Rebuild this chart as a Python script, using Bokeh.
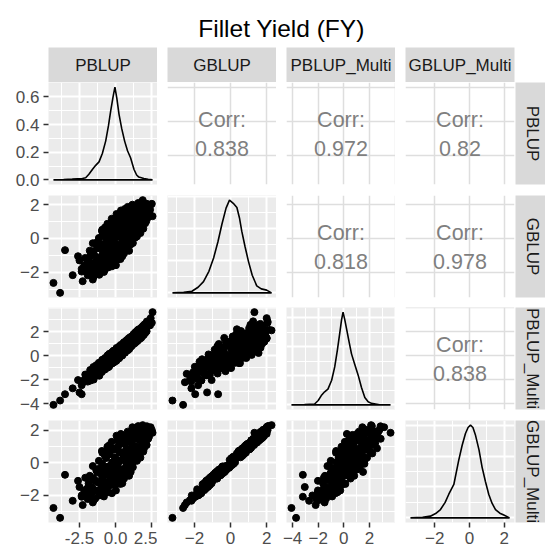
from bokeh.plotting import figure
from bokeh.layouts import gridplot, column
from bokeh.models import Range1d, FixedTicker, Grid, LinearAxis, BasicTickFormatter, PrintfTickFormatter
from bokeh.core.properties import value
from bokeh.embed import file_html
from bokeh.resources import INLINE

TITLE = "Fillet Yield (FY)"
VARS = ["PBLUP", "GBLUP", "PBLUP_Multi", "GBLUP_Multi"]

# ---- scatter data (one entry per animal) ----
PBLUP = [-4.30, -3.84, -3.50, -2.97, -2.50, -2.28, -1.58, -2.60, -2.35, -0.95, 1.87, 2.55, 2.50,
         -2.18, -2.04, -1.87, -1.79, -1.71, -1.62, -1.58, -1.48,
         -1.41, -1.33, -1.27, -1.21, -1.16, -1.08, -1.02, -0.97, -0.92, -0.88, -0.81, -0.76,
         -0.72, -0.66, -0.61, -0.57, -0.52, -0.47, -0.42, -0.38, -0.31, -0.27, -0.22, -0.17,
         -0.12, -0.08, -0.03, 0.02, 0.07, 0.12, 0.18, 0.22, 0.28, 0.33, 0.37, 0.42,
         0.48, 0.53, 0.58, 0.63, 0.67, 0.72, 0.78, 0.83, 0.88, 0.93, 0.97, 1.03,
         1.08, 1.13, 1.19, 1.27, 1.32, 1.38, 1.47, 1.53, 1.58, 1.63,
         1.71, 1.77, 1.83, 1.91, 1.97, 2.03, 2.12, 2.18, 2.31,
         -1.95, -1.93, -1.76, -1.74, -1.56, -1.54, -1.52, -1.36, -1.34, -1.16, -1.14, -1.13,
         -0.96, -0.94, -0.93, -0.86, -0.84, -0.76, -0.74, -0.66, -0.64, -0.63, -0.56, -0.54,
         -0.46, -0.45, -0.44, -0.36, -0.34, -0.26, -0.25, -0.24, -0.16, -0.15, -0.14, -0.06,
         -0.05, -0.04, 0.04, 0.05, 0.06, 0.14, 0.16, 0.24, 0.25, 0.26, 0.34, 0.35,
         0.36, 0.44, 0.46, 0.54, 0.55, 0.56, 0.64, 0.65, 0.66, 0.74, 0.76, 0.84,
         0.85, 0.86, 0.94, 0.96, 1.04, 1.05, 1.06, 1.14, 1.15, 1.16, 1.24, 1.26,
         1.34, 1.36, 1.44, 1.46, 1.54, 1.56, 1.64, 1.66, 1.74, 1.76, 1.84, 1.86,
         1.94, 1.96, 2.04, 2.06, 2.14, 2.16, 2.25, 2.38, 2.42, -2.35, -2.10]
GBLUP = [-2.63, -3.22, -0.69, -2.17, -1.30, -2.53, -2.43, -1.05, -1.96, 0.45, 2.27, 1.32, 2.05,
         -1.62, -1.88, -1.17, -0.72, -2.02, -1.47, -0.28, -0.98,
         -2.08, -1.63, -0.58, -1.12, 0.03, -1.77, -1.31, -0.33, 0.52, -0.81, -1.98, -1.46,
         -0.52, 0.18, -1.13, 0.87, -1.72, -0.23, 0.41, -0.77, -1.28, 1.17, 0.02, -0.48,
         0.68, -0.97, 0.31, -1.58, -0.32, 1.28, 0.91, -0.68, 0.12, -1.22, 1.66, 0.52,
         -0.41, 1.08, -0.88, 0.23, 1.47, 0.71, -0.18, 1.87, 0.38, -0.73, 1.21, 0.03,
         0.82, 1.68, -0.27, 0.42, 1.38, 0.97, 0.12, 1.92, 0.68, 1.31,
         0.32, 1.72, 1.02, 0.58, 1.43, 1.98, 1.03, 1.79, 1.52,
         -1.35, -2.18, -1.05, -1.62, -1.85, -0.75, -2.25, -1.35, -0.25, -0.55, -1.45, -2.15,
         -1.75, -1.05, 0.15, -0.45, -1.25, -1.85, 0.65, -0.85, -0.05, -1.45, 0.45, -1.25,
         -1.55, -0.55, 0.85, -0.10, -0.95, -1.65, 0.65, 0.25, -0.75, 1.05, -1.35, -0.35,
         0.05, -1.15, 0.65, -0.75, 1.45, -1.25, 0.15, 0.45, -0.45, 1.15, -0.85, 0.85,
         1.55, -0.05, -1.05, 0.55, 1.45, -0.65, 1.75, -0.35, 0.95, 0.05, 1.15, -0.45,
         0.75, 1.55, 0.15, 1.85, -0.35, 0.55, 1.55, 1.15, 0.15, 2.00, 0.75, 1.75,
         0.05, 1.15, 0.55, 1.65, 1.05, 2.10, 0.35, 1.65, 1.15, 2.00, 0.85, 1.45,
         1.80, 1.10, 0.90, 1.65, 1.30, 2.05, 1.25, 1.70, 2.00, -1.80, -1.15]
PBLUP_MULTI = [-4.09, -3.73, -3.20, -2.71, -3.05, -2.20, -1.50, -2.02, -3.20, -0.60, 2.13, 3.65, 2.77,
               -2.02, -1.88, -1.62, -1.47, -1.58, -1.42, -1.28, -1.21,
               -1.38, -1.12, -0.98, -0.92, -1.02, -1.18, -0.79, -0.72, -0.61, -0.88, -0.91, -0.58,
               -0.52, -0.41, -0.62, -0.18, -0.49, -0.31, -0.12, -0.41, -0.38, 0.08, 0.02, -0.21,
               0.18, -0.22, 0.11, -0.28, 0.12, 0.38, 0.42, 0.11, 0.31, 0.12, 0.68, 0.52,
               0.41, 0.72, 0.52, 0.68, 0.98, 0.88, 0.82, 1.18, 1.02, 0.81, 1.31, 1.12,
               1.28, 1.52, 1.22, 1.41, 1.52, 1.58, 1.62, 1.72, 1.76, 1.86,
               1.82, 2.01, 1.96, 2.07, 2.21, 2.12, 2.31, 2.44, 2.56,
               -1.56, -2.15, -1.18, -2.06, -1.65, -0.93, -1.98, -1.63, -0.78, -0.58, -1.50, -1.66,
               -1.35, -0.55, -0.33, -1.06, -0.47, -1.15, -0.18, -1.03, -0.16, -0.82, 0.04, -0.97,
               -0.56, -0.89, 0.17, -0.63, 0.05, -0.65, 0.31, -0.58, 0.32, 0.43, -0.55, -0.49,
               0.44, -0.18, 0.53, -0.41, 0.66, -0.25, 0.60, -0.20, 0.69, 0.80, -0.03, 0.91,
               0.24, 0.93, 0.03, 0.23, 1.11, 0.99, 1.18, 0.26, 0.78, 1.28, 0.45, 0.47,
               1.41, 1.03, 0.57, 1.52, 1.50, 0.76, 1.60, 0.87, 1.61, 1.45, 1.82, 1.02,
               1.07, 1.96, 1.18, 2.07, 1.28, 2.19, 2.22, 1.42, 2.32, 1.50, 1.64, 2.46,
               1.75, 2.59, 1.90, 2.67, 2.05, 2.87, 2.88, 2.55, 3.15, -2.45, -1.56]
GBLUP_MULTI = [-2.79, -3.40, -0.75, -2.35, -1.50, -2.61, -2.45, -1.12, -2.10, 0.72, 2.31, 1.84, 2.00,
               -1.71, -1.98, -1.28, -0.81, -2.12, -1.52, -0.21, -1.08,
               -2.21, -1.72, -0.61, -1.22, 0.11, -1.88, -1.32, -0.42, 0.61, -0.92, -2.08, -1.61,
               -0.51, 0.28, -1.21, 0.98, -1.82, -0.22, 0.51, -0.88, -1.38, 1.28, 0.01, -0.58,
               0.79, -1.08, 0.31, -1.71, -0.31, 1.38, 1.01, -0.79, 0.12, -1.31, 1.71, 0.61,
               -0.41, 1.18, -0.98, 0.22, 1.58, 0.81, -0.21, 1.91, 0.49, -0.81, 1.31, 0.02,
               0.91, 1.79, -0.28, 0.41, 1.49, 1.02, 0.11, 1.98, 0.79, 1.41,
               0.31, 1.81, 1.09, 0.68, 1.51, 2.08, 1.12, 1.88, 1.61,
               -1.58, -2.24, -0.86, -1.88, -1.79, -0.98, -2.31, -1.12, -0.47, -0.38, -1.69, -2.02,
               -1.98, -0.84, -0.07, -0.26, -1.48, -1.64, 0.42, -0.63, -0.28, -1.26, 0.68, -1.47,
               -1.33, -0.78, 1.07, -0.33, -0.74, -1.88, 0.86, 0.02, -0.53, 0.83, -1.14, -0.58,
               0.27, -1.38, 0.87, -0.97, 1.66, -1.04, -0.08, 0.67, -0.67, 1.36, -0.64, 0.62,
               1.77, 0.17, -1.27, 0.33, 1.67, -0.43, 1.52, -0.57, 1.17, -0.17, 1.37, -0.23,
               0.53, 1.77, 0.37, 1.63, -0.57, 0.77, 1.33, 1.37, -0.07, 2.18, 0.97, 1.53,
               0.27, 0.93, 0.77, 1.87, 0.83, 2.25, 0.57, 1.43, 1.37, 1.78, 1.07, 1.23,
               2.02, 0.88, 1.12, 1.87, 1.08, 2.24, 1.47, 1.92, 2.18, -2.02, -0.93]

# ---- diagonal density curves ----
DENS_PBLUP_X = [-4.30, -3.60, -3.00, -2.64, -2.30, -2.07, -1.85, -1.61, -1.38, -1.15, -0.92, -0.69,
                -0.50, -0.34, -0.18, -0.05, 0.08, 0.23, 0.42, 0.62, 0.82, 1.03, 1.27, 1.45, 1.60,
                1.95, 2.25, 2.55]
DENS_PBLUP_Y = [0.0, 0.002, 0.005, 0.008, 0.010, 0.015, 0.040, 0.075, 0.105, 0.130, 0.190, 0.280,
                0.390, 0.500, 0.600, 0.670, 0.590, 0.475, 0.370, 0.280, 0.210, 0.160, 0.075, 0.035,
                0.020, 0.010, 0.004, 0.0]
DENS_GBLUP_X = [-3.22, -2.60, -2.14, -1.80, -1.50, -1.20, -0.94, -0.70, -0.48, -0.25, -0.06, 0.15,
                0.35, 0.50, 0.62, 0.80, 0.99, 1.20, 1.45, 1.70, 2.00, 2.27]
DENS_GBLUP_Y = [0.0, 0.004, 0.010, 0.035, 0.070, 0.135, 0.218, 0.320, 0.429, 0.530, 0.580, 0.560,
                0.534, 0.465, 0.386, 0.290, 0.197, 0.110, 0.044, 0.025, 0.017, 0.0]
DENS_PM_X = [-4.09, -3.07, -2.28, -2.00, -1.76, -1.50, -1.24, -0.95, -0.71, -0.50, -0.32, -0.18,
             -0.06, 0.07, 0.20, 0.40, 0.60, 0.85, 1.12, 1.38, 1.64, 1.90, 2.16, 2.80, 3.65]
DENS_PM_Y = [0.0, 0.003, 0.006, 0.030, 0.064, 0.090, 0.109, 0.170, 0.262, 0.380, 0.493, 0.585,
             0.640, 0.590, 0.531, 0.440, 0.352, 0.280, 0.205, 0.120, 0.051, 0.022, 0.010, 0.001, 0.0]
DENS_GM_X = [-3.40, -2.70, -2.25, -1.95, -1.67, -1.40, -1.19, -0.90, -0.62, -0.42, -0.23, -0.08,
             0.06, 0.20, 0.35, 0.55, 0.73, 0.92, 1.11, 1.30, 1.50, 1.75, 1.98, 2.31]
DENS_GM_Y = [0.0, 0.004, 0.011, 0.028, 0.054, 0.100, 0.153, 0.216, 0.372, 0.470, 0.546, 0.585,
             0.600, 0.585, 0.534, 0.440, 0.327, 0.235, 0.153, 0.095, 0.054, 0.030, 0.018, 0.0]

# ---- correlations (upper panels) ----
CORR_ROW = [0, 0, 0, 1, 1, 2]
CORR_COL = [1, 2, 3, 2, 3, 3]
CORR_VAL = [0.838, 0.972, 0.82, 0.818, 0.978, 0.838]

# ---- ticks ----
MAJOR = [[-2.5, 0, 2.5], [-2, 0, 2], [-4, -2, 0, 2, 4], [-2, 0, 2]]
MINOR = [[-3.75, -1.25, 1.25], [-3, -1, 1], [-3, -1, 1, 3], [-3, -1, 1]]
LABELLED = [[-2.5, 0, 2.5], [-2, 0, 2], [-4, -2, 0, 2], [-2, 0, 2]]
LABEL_DECIMALS = [1, 0, 0, 0]
DENS_MAJOR = [0, 0.2, 0.4, 0.6]
DENS_MINOR = [0.1, 0.3, 0.5]

DATA = [PBLUP, GBLUP, PBLUP_MULTI, GBLUP_MULTI]
DENS = [(DENS_PBLUP_X, DENS_PBLUP_Y), (DENS_GBLUP_X, DENS_GBLUP_Y),
        (DENS_PM_X, DENS_PM_Y), (DENS_GM_X, DENS_GM_Y)]

# ---- layout geometry ----
FW, FH = 109, 102
COL_L = [48, 10, 10, 10]
COL_R = [0, 0, 0, 1]
ROW_T = [0, 5, 5, 6]
ROW_B = [6, 5, 5, 26]
STRIP_W, STRIP_H, TITLE_H = 30, 35, 47
FONT = value("Liberation Sans")


def expanded(vals):
    lo, hi = min(vals), max(vals)
    pad = 0.05 * (hi - lo)
    return lo - pad, hi + pad


def make_fig(fw, fh, l, r, t, b, xr=None, yr=None, bg="white"):
    p = figure(frame_width=fw, frame_height=fh,
               x_range=xr if xr is not None else Range1d(0, 1),
               y_range=yr if yr is not None else Range1d(0, 1),
               min_border_left=l, min_border_right=r, min_border_top=t, min_border_bottom=b,
               x_axis_location=None, y_axis_location=None,
               toolbar_location=None, tools="", output_backend="svg")
    p.center = []
    p.outline_line_color = None
    p.background_fill_color = bg
    p.border_fill_color = "white"
    return p


def add_grid(p, dim, major, minor, color, width, minor_color=None):
    g = Grid(dimension=dim, ticker=FixedTicker(ticks=major, minor_ticks=minor if minor else []),
             grid_line_color=color, grid_line_width=width,
             minor_grid_line_color=minor_color, minor_grid_line_width=1)
    p.add_layout(g, "center")


def make_axis(ticks, decimals):
    fmt = PrintfTickFormatter(format="%.1f") if decimals == 1 else BasicTickFormatter()
    ax = LinearAxis(ticker=FixedTicker(ticks=ticks), formatter=fmt)
    ax.axis_line_color = None
    ax.major_tick_line_color = "#333333"
    ax.major_tick_line_width = 1.5
    ax.major_tick_out = 5
    ax.major_tick_in = 0
    ax.minor_tick_line_color = None
    ax.major_label_standoff = 4
    ax.major_label_text_font = "Liberation Sans"
    ax.major_label_text_font_size = "17px"
    ax.major_label_text_color = "#4D4D4D"
    return ax


xranges = [expanded(d) for d in DATA]

rows = []
strip_row = []
for j, name in enumerate(VARS):
    s = make_fig(FW, STRIP_H, COL_L[j], COL_R[j], 0, 0, bg="#D9D9D9")
    s.text(x=[0.5], y=[0.5], text=[name], text_font=FONT, text_font_size="17px",
           text_color="#1A1A1A", text_align="center", text_baseline="middle")
    strip_row.append(s)
strip_row.append(None)
rows.append(strip_row)

for i in range(4):
    row = []
    for j in range(4):
        xr = Range1d(*xranges[j])
        if i == j:
            dx, dy = DENS[i]
            top = max(dy)
            yr = Range1d(-0.05 * top, 1.05 * top)
            p = make_fig(FW, FH, COL_L[j], COL_R[j], ROW_T[i], ROW_B[i], xr, yr, "#EBEBEB")
            add_grid(p, 0, MAJOR[j], MINOR[j], "white", 2, "white")
            add_grid(p, 1, DENS_MAJOR, DENS_MINOR, "white", 2, "white")
            p.patch(dx, dy, fill_color=None, line_color="black", line_width=1.6)
        elif i > j:
            yr = Range1d(*xranges[i])
            p = make_fig(FW, FH, COL_L[j], COL_R[j], ROW_T[i], ROW_B[i], xr, yr, "#EBEBEB")
            add_grid(p, 0, MAJOR[j], MINOR[j], "white", 2, "white")
            add_grid(p, 1, MAJOR[i], MINOR[i], "white", 2, "white")
            p.scatter(DATA[j], DATA[i], size=7, color="black")
        else:
            yr = Range1d(*xranges[i])
            p = make_fig(FW, FH, COL_L[j], COL_R[j], ROW_T[i], ROW_B[i], xr, yr, "white")
            add_grid(p, 0, MAJOR[j], None, "#DEDEDE", 1.5)
            add_grid(p, 1, MAJOR[i], None, "#DEDEDE", 1.5)
            k = [n for n in range(len(CORR_VAL)) if CORR_ROW[n] == i and CORR_COL[n] == j][0]
            cx = 0.5 * (xranges[j][0] + xranges[j][1])
            cy = 0.5 * (xranges[i][0] + xranges[i][1])
            p.text(x=[cx], y=[cy], text=["Corr:"], y_offset=-14, text_font=FONT,
                   text_font_size="21.5px", text_color="#7F7F7F",
                   text_align="center", text_baseline="middle")
            p.text(x=[cx], y=[cy], text=[str(CORR_VAL[k])], y_offset=15, text_font=FONT,
                   text_font_size="21.5px", text_color="#7F7F7F",
                   text_align="center", text_baseline="middle")
        if j == 0:
            if i == 0:
                ax = make_axis(DENS_MAJOR, 1)
            else:
                ax = make_axis(LABELLED[i], LABEL_DECIMALS[i])
            p.add_layout(ax, "left")
        if i == 3:
            p.add_layout(make_axis(LABELLED[j], LABEL_DECIMALS[j]), "below")
        row.append(p)
    s = make_fig(STRIP_W, FH, 0, 0, ROW_T[i], ROW_B[i], bg="#D9D9D9")
    s.text(x=[0.567], y=[0.5], text=[VARS[i]], angle=-1.5707963, text_font=FONT,
           text_font_size="17px", text_color="#1A1A1A",
           text_align="center", text_baseline="middle")
    row.append(s)
    rows.append(row)

grid = gridplot(rows, toolbar_location=None)

tfig = make_fig(466, TITLE_H, 48, 31, 0, 0, yr=Range1d(0, TITLE_H))
tfig.text(x=[0.5], y=[19], text=[TITLE], text_font=FONT, text_font_size="24.5px",
          text_color="black", text_align="center", text_baseline="middle")

layout = column(tfig, grid)
open("out.html", "w").write(file_html(layout, INLINE))
